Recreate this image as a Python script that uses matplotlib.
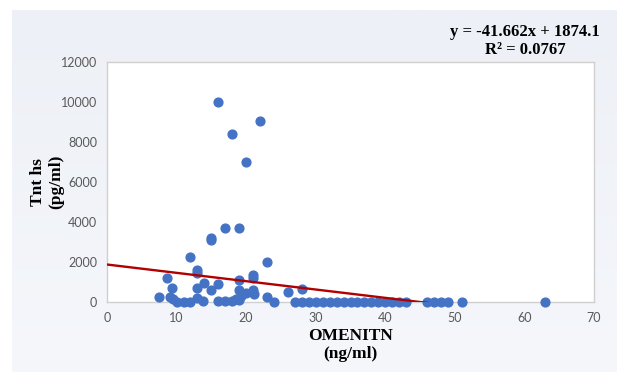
import numpy as np
import matplotlib
matplotlib.use('Agg')
import matplotlib.pyplot as plt
from matplotlib.colors import LinearSegmentedColormap

# values (OMENTIN ng/ml vs Tnt hs pg/ml)
omentin = [7.5, 8.6, 9.0, 9.4, 9.5, 10, 11, 12, 12, 13, 13, 12.9, 13, 13.8, 14,
           14.9, 15, 15, 16, 16, 16, 17, 17, 18, 18, 18.5, 19, 19, 19, 19.2, 19,
           20, 20, 21, 21, 21, 21.2, 22, 23, 23, 24, 26, 28,
           27, 28, 29, 30, 31, 32, 33, 34, 35, 36, 37, 38, 39, 40, 41, 42, 43,
           46, 47, 48, 49, 51, 63]
tnt_hs = [270, 1180, 270, 720, 150, 20, 20, 20, 2270, 1580, 1450, 720, 180, 50, 930,
          620, 3200, 3080, 10000, 880, 40, 40, 3720, 40, 8380, 150, 3720, 1080, 600, 300, 80,
          7000, 450, 1350, 1220, 620, 380, 9060, 1990, 270, 0, 490, 640,
          0, 0, 0, 0, 0, 0, 0, 0, 0, 0, 0, 0, 0, 0, 0, 0, 0,
          0, 0, 0, 0, 0, 0]

slope = -41.662
intercept = 1874.1
r2 = 0.0767

x_ticks = [0, 10, 20, 30, 40, 50, 60, 70]
y_ticks = [0, 2000, 4000, 6000, 8000, 10000, 12000]

W, H = 617, 372
fig = plt.figure(figsize=(W / 100, H / 100), dpi=100)
fig.patch.set_facecolor('white')

# light gradient chart-area background
bg = fig.add_axes([12 / W, 0, 1 - 12 / W, 1 - 10 / H], zorder=0)
grad = np.linspace(0, 1, 256).reshape(-1, 1)
bg_cmap = LinearSegmentedColormap.from_list('bg', ['#edf0f6', '#f5f7fb'])
bg.imshow(grad, aspect='auto', cmap=bg_cmap, extent=[0, 1, 0, 1])
bg.axis('off')

ax = fig.add_axes([107 / W, 1 - 302 / H, (594 - 107) / W, (302 - 62) / H], zorder=1)
ax.set_facecolor('white')

ax.scatter(omentin, tnt_hs, s=40, color='#4472C4', zorder=3, clip_on=False)

xl = np.array([0, max(omentin)])
ax.plot(xl, slope * xl + intercept, color='#B00000', lw=1.7, zorder=4)

ax.set_xlim(0, 70)
ax.set_ylim(0, 12000)
ax.set_xticks(x_ticks)
ax.set_yticks(y_ticks)
ax.tick_params(length=0, labelsize=9, colors='#595959', pad=7)
for lab in ax.get_xticklabels() + ax.get_yticklabels():
    lab.set_family('Lato')
for side in ['left', 'bottom', 'top', 'right']:
    ax.spines[side].set_color('#d0d0d0')
    ax.spines[side].set_linewidth(1.0)

ax.set_xlabel('OMENITN\n(ng/ml)', family='Liberation Serif', fontweight='bold',
              fontsize=12.5, linespacing=1.2, labelpad=3)
ax.set_ylabel('Tnt hs\n(pg/ml)', family='Liberation Serif', fontweight='bold',
              fontsize=12.5, linespacing=1.2)
ax.yaxis.set_label_coords((64 - 107) / 487, 0.5)

fig.text(525 / W, 1 - 41 / H, 'y = -41.662x + 1874.1\nR² = %.4f' % r2,
         ha='center', va='center', multialignment='center',
         family='Liberation Serif', fontweight='bold', fontsize=12, linespacing=1.1)

fig.savefig('out.png', dpi=100)
